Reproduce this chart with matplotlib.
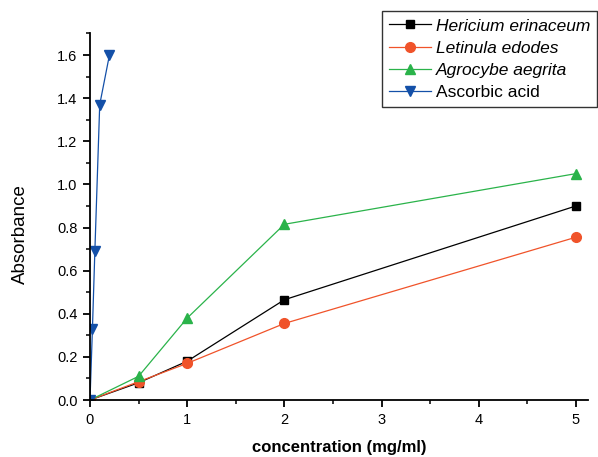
import numpy as np
import matplotlib
matplotlib.use('Agg')
import matplotlib.pyplot as plt

plt.rcParams['font.family'] = ['Liberation Sans', 'DejaVu Sans']

# concentration (mg/ml) for the mushroom extracts
conc = [0, 0.5, 1, 2, 5]
hericium = [0, 0.08, 0.18, 0.465, 0.90]
letinula = [0, 0.085, 0.17, 0.355, 0.755]
agrocybe = [0, 0.11, 0.38, 0.815, 1.05]

# ascorbic acid standard
conc_aa = [0, 0.025, 0.05, 0.1, 0.2]
ascorbic = [0, 0.33, 0.69, 1.37, 1.60]

fig = plt.figure(figsize=(5.98, 4.57), dpi=100)
ax = fig.add_axes([0.1505, 0.1247, 0.832, 0.802])

ax.plot(conc, hericium, color='black', marker='s', ms=6, lw=0.9,
        label='Hericium erinaceum')
ax.plot(conc, letinula, color='#f0532a', marker='o', ms=7, lw=0.9,
        label='Letinula edodes')
ax.plot(conc, agrocybe, color='#2ab34a', marker='^', ms=7, lw=0.9,
        label='Agrocybe aegrita')
ax.plot(conc_aa, ascorbic, color='#1450a8', marker='v', ms=7, lw=0.9,
        label='Ascorbic acid')

ax.set_xlim(0, 5.12)
ax.set_ylim(0, 1.7)
ax.set_xticks([0, 1, 2, 3, 4, 5])
ax.set_xticks(np.arange(0.5, 5.0, 1.0), minor=True)
ax.set_yticks(np.arange(0, 1.61, 0.2))
ax.set_yticks(np.arange(0.1, 1.71, 0.2), minor=True)
ax.yaxis.set_major_formatter(matplotlib.ticker.FormatStrFormatter('%.1f'))

for s in ['top', 'right']:
    ax.spines[s].set_visible(False)
for s in ['left', 'bottom']:
    ax.spines[s].set_linewidth(1.3)
ax.tick_params(which='major', direction='out', length=5, width=1.3,
               labelsize=10.5, pad=4)
ax.tick_params(which='minor', direction='out', length=3, width=1.1)

ax.set_xlabel('concentration (mg/ml)', fontsize=12, fontweight='bold',
              labelpad=10)
ax.set_ylabel('Absorbance', fontsize=13.5)
ax.yaxis.set_label_coords(-0.123, 0.452)

leg = ax.legend(loc='upper right', bbox_to_anchor=(0.999, 0.975),
                bbox_transform=fig.transFigure, fontsize=12.5, frameon=True,
                fancybox=False, edgecolor='black', handlelength=2.4,
                handletextpad=0.3, borderpad=0.4, labelspacing=0.4,
                borderaxespad=0)
leg.get_frame().set_linewidth(1.0)
for t in leg.get_texts()[:3]:
    t.set_style('italic')

fig.savefig('out.png', dpi=100)
